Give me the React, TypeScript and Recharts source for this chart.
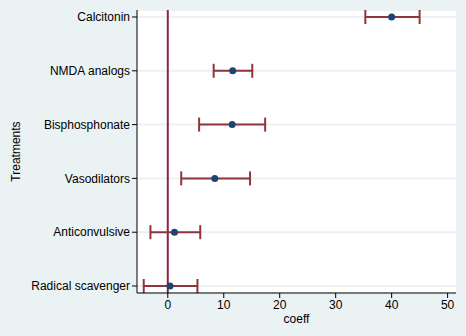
import React from 'react';
import {
  ScatterChart,
  Scatter,
  XAxis,
  YAxis,
  CartesianGrid,
  ReferenceLine,
  ErrorBar,
} from 'recharts';

const treatments = [
  'Calcitonin',
  'NMDA analogs',
  'Bisphosphonate',
  'Vasodilators',
  'Anticonvulsive',
  'Radical scavenger',
];
const coefficients = [40.0, 11.6, 11.5, 8.4, 1.2, 0.4];
const lowerCI = [35.3, 8.2, 5.6, 2.4, -3.1, -4.3];
const upperCI = [45.0, 15.1, 17.4, 14.7, 5.8, 5.3];
const xTicks = [0, 10, 20, 30, 40, 50];

const data = treatments.map((name, i) => ({
  name,
  pos: i + 1,
  coef: coefficients[i],
  err: [coefficients[i] - lowerCI[i], upperCI[i] - coefficients[i]],
}));

const FONT = '"Liberation Sans", Arial, Helvetica, sans-serif';
const MAROON = '#90353b';
const NAVY = '#1a476f';

const Dot = (props: any) => {
  const { cx, cy } = props;
  if (cx == null || cy == null) return null;
  return <circle cx={cx} cy={cy} r={3.5} fill={NAVY} stroke="none" />;
};

const YLabel = (props: any) => {
  const vb = props.viewBox || {};
  const cy = (vb.y || 0) + (vb.height || 0) / 2;
  return (
    <text
      x={20}
      y={cy}
      transform={`rotate(-90, 20, ${cy})`}
      textAnchor="middle"
      fontSize={12}
      fontFamily={FONT}
      fill="#000"
    >
      Treatments
    </text>
  );
};

export default function App() {
  return (
    <div
      style={{
        position: 'absolute',
        left: 0,
        top: 0,
        width: 466,
        height: 336,
        background: '#eaf2f3',
        fontFamily: FONT,
      }}
    >
      <ScatterChart
        width={466}
        height={336}
        margin={{ top: 10, right: 10, bottom: 0, left: 0 }}
      >
        <CartesianGrid
          fill="#ffffff"
          vertical={false}
          horizontal={true}
          stroke="#eaf2f3"
          strokeWidth={2}
        />
        <XAxis
          type="number"
          dataKey="coef"
          domain={[-5.5, 51.5]}
          ticks={xTicks}
          allowDataOverflow
          height={43}
          axisLine={{ stroke: '#000', strokeWidth: 1 }}
          tickLine={{ stroke: '#000' }}
          tickSize={5}
          tick={{ fill: '#000', fontSize: 12, fontFamily: FONT }}
          label={{
            value: 'coeff',
            position: 'insideBottom',
            offset: 13,
            fill: '#000',
            fontSize: 12,
            fontFamily: FONT,
          }}
        />
        <YAxis
          type="number"
          dataKey="pos"
          domain={[0.87, 6.13]}
          ticks={[1, 2, 3, 4, 5, 6]}
          reversed
          allowDataOverflow
          width={137}
          interval={0}
          tickFormatter={(v: number) => treatments[v - 1] ?? ''}
          axisLine={{ stroke: '#000', strokeWidth: 1 }}
          tickLine={{ stroke: '#000' }}
          tickSize={5}
          tick={{ fill: '#000', fontSize: 12, fontFamily: FONT }}
          label={<YLabel />}
        />
        <ReferenceLine x={0} stroke="#8c2341" strokeWidth={2} ifOverflow="visible" />
        <Scatter data={data} shape={<Dot />} isAnimationActive={false}>
          <ErrorBar
            dataKey="err"
            direction="x"
            width={7}
            stroke={MAROON}
            strokeWidth={2}
          />
        </Scatter>
      </ScatterChart>
    </div>
  );
}
